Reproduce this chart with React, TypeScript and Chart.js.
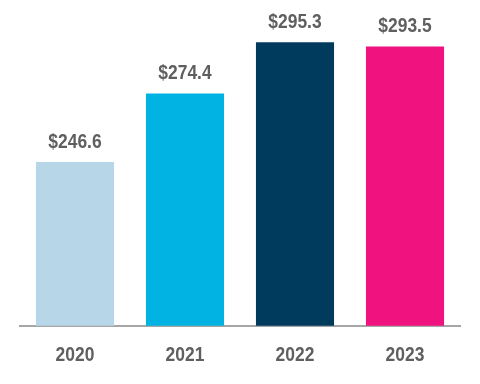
import React, { useEffect, useRef } from "react";
import { Chart, registerables } from "chart.js";

Chart.register(...registerables);

const categories = ["2020", "2021", "2022", "2023"];
const values = [246.6, 274.4, 295.3, 293.5];
const valueLabels = ["$246.6", "$274.4", "$295.3", "$293.5"];
const barColors = ["#b7d7e8", "#00b3e2", "#003a5c", "#f0127f"];

const FONT = "'Liberation Sans', Arial, sans-serif";
const TEXT_COLOR = "#5f5f5f";
const NARROW = 0.83;

function narrowText(ctx: any, text: string, x: number, y: number) {
  ctx.save();
  ctx.translate(x, y);
  ctx.scale(NARROW, 1);
  ctx.fillText(text, 0, 0);
  ctx.restore();
}

const labelPlugin = {
  id: "valueLabels",
  afterDatasetsDraw(chart: any) {
    const ctx = chart.ctx;
    const meta = chart.getDatasetMeta(0);
    const xScale = chart.scales.x;
    ctx.save();
    ctx.font = "bold 21px " + FONT;
    ctx.fillStyle = TEXT_COLOR;
    ctx.textAlign = "center";
    ctx.textBaseline = "middle";
    meta.data.forEach((bar: any, i: number) => {
      narrowText(ctx, valueLabels[i], bar.x, bar.y - 20);
    });
    categories.forEach((c, i) => {
      narrowText(ctx, c, xScale.getPixelForValue(i), chart.chartArea.bottom + 29);
    });
    ctx.restore();
  },
};

export default function App() {
  const ref = useRef<HTMLCanvasElement>(null);
  useEffect(() => {
    document.body.style.margin = "0";
    const chart = new Chart(ref.current!, {
      type: "bar",
      data: {
        labels: categories,
        datasets: [
          {
            data: values,
            backgroundColor: barColors,
            categoryPercentage: 1,
            barPercentage: 0.71,
          },
        ],
      },
      options: {
        animation: false,
        responsive: false,
        maintainAspectRatio: false,
        layout: { padding: { left: 20, right: 20, top: 6, bottom: 1 } },
        plugins: { legend: { display: false }, tooltip: { enabled: false } },
        scales: {
          x: {
            grid: { display: false },
            border: { display: true, color: "#a6a6a6", width: 2 },
            ticks: {
              color: "rgba(0,0,0,0)",
              font: { family: FONT, size: 21, weight: "bold" },
              padding: 12,
            },
          },
          y: {
            display: false,
            min: 180,
            max: 310,
          },
        },
      },
      plugins: [labelPlugin],
    });
    return () => chart.destroy();
  }, []);
  return (
    <div style={{ width: 480, height: 384 }}>
      <canvas ref={ref} width={480} height={384} />
    </div>
  );
}
